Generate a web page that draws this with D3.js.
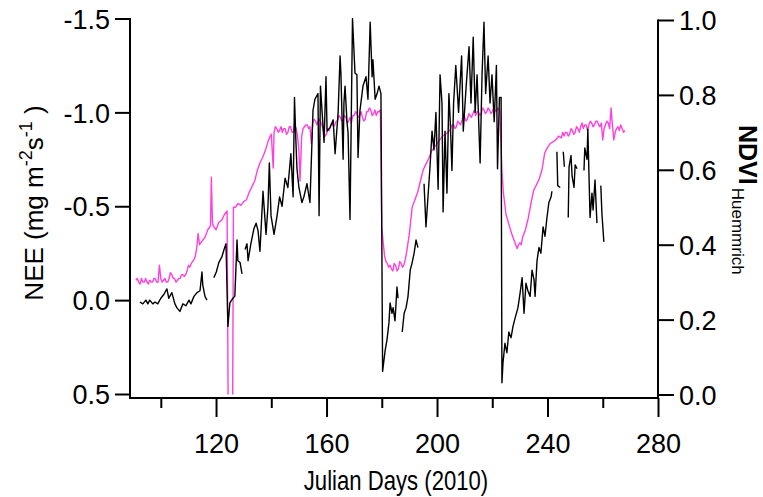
<!DOCTYPE html>
<html>
<head>
<meta charset="utf-8">
<script src="https://cdn.jsdelivr.net/npm/d3@7"></script>
<style>
  html, body { margin: 0; padding: 0; background: #fff; }
  svg { display: block; }
  text { font-family: "Liberation Sans", Arial, sans-serif; fill: #000; }
</style>
</head>
<body>
<svg id="chart" width="763" height="497"></svg>
<script>
// ---------------- DATA ----------------
const xTicksMajor = [120, 160, 200, 240, 280];
const xTicksMinor = [100, 140, 180, 220, 260];
const neeTicks = [-1.5, -1.0, -0.5, 0.0, 0.5];
const ndviTicks = [0.0, 0.2, 0.4, 0.6, 0.8, 1.0];

// NEE (mg m-2 s-1), black line; null = gap
const neeDays = [
  92.4, 93.5, 94.6, 95.3, 96.0, 97.1, 97.9, 98.9, 100.0, 101.1, 102.2, 102.9, 104.0, 105.1, 105.8, 106.9,
  108.0, 109.1, 110.2, 110.9, 112.0, 113.1, 114.2, 114.9, 115.2, 116.0, 116.7, 117.5,
  119.2, 120.1, 121.0, 122.1, 122.9, 123.6, 124.3, 125.0, 126.1, 126.8, 127.6, 127.9, 128.7, 129.4, 129.8,
  130.5, 131.2, 131.6, 132.6, 133.7, 134.5, 135.2, 135.9, 137.0, 138.1, 138.8, 139.3, 139.9, 141.0, 142.1,
  143.0, 143.9, 145.0, 146.0, 147.1, 147.9, 148.4, 148.9, 149.3, 150.0, 151.1, 151.8, 152.9, 154.0, 155.1,
  155.8, 156.9, 157.3, 157.8, 159.1, 159.8, 160.2, 161.3, 162.4, 163.1, 164.2, 164.9, 165.2, 166.0, 166.3,
  166.7, 167.4, 167.8, 168.5, 169.4, 170.3, 171.0, 171.4, 172.1, 173.2, 174.3, 175.0, 175.8, 176.5, 176.8,
  177.6, 178.3, 179.0, 179.7, 180.3, 181.2, 181.9, 182.6, 183.0, 183.7, 184.1, 184.8, 185.5, 185.9, 186.6,
  187.4, 188.1, 188.8, 189.5, 190.3, 191.0, 191.7, 192.4, 193.1, 194.0,
  195.3, 196.0, 197.5, 198.2, 198.9, 199.6, 200.4, 201.1, 201.8, 202.2, 202.9, 203.6, 204.3, 204.8, 205.4,
  206.0, 206.8, 207.8, 208.9, 209.5, 210.6, 211.6, 212.3, 213.1, 213.8, 214.5, 215.6, 216.3, 217.0, 217.6,
  218.5, 219.2, 219.9, 220.7, 221.5, 221.9, 222.6, 223.2, 223.5, 223.9, 224.6, 225.3, 226.0, 226.8, 227.5,
  228.2, 229.3, 230.1, 230.8, 231.5, 232.2, 232.9, 233.7, 234.4, 235.1, 235.5, 236.2, 236.9, 237.6, 238.4,
  239.1, 239.8, 240.5, 241.3, 241.6, 242.5, 243.4, 243.7, 244.6, 245.3, 245.7, 246.1, 247.0, 247.5, 247.8,
  248.5, 248.9, 249.6, 250.0, 250.7, 252.0, 253.2, 253.5, 254.3, 254.6, 255.4, 256.1, 256.5, 257.2, 257.9,
  258.7, 259.3, 259.7, 260.4
];
const neeValues = [
  0.01, 0.02, 0.00, 0.02, 0.00, 0.02, 0.01, 0.02, -0.01, -0.03, -0.06, -0.01, -0.04, 0.02, 0.04, 0.06,
  0.02, 0.03, 0.00, 0.02, -0.02, -0.04, -0.05, -0.15, -0.08, -0.02, 0.00, null,
  -0.12, -0.15, -0.20, -0.23, -0.27, -0.30, 0.14, 0.015, -0.01, -0.02, -0.32, -0.21, -0.20, -0.14, null,
  -0.27, -0.30, -0.21, -0.30, -0.38, -0.41, -0.37, -0.26, -0.58, -0.35, -0.50, -0.73, -0.45, -0.35, -0.45,
  -0.55, -0.50, -0.65, -0.60, -0.78, -0.55, -1.08, -0.85, -0.70, -0.60, -0.52, -0.55, -0.62, -0.52, -1.01,
  -1.07, -1.10, -0.45, -1.14, -0.84, -1.19, -0.90, -0.92, -0.96, -0.78, -1.00, -1.30, -1.21, -0.75, -1.05,
  -1.14, -0.95, -0.89, -0.43, -1.50, -1.21, -1.20, -0.76, -1.01, -1.14, -1.19, -1.07, -1.48, -1.19, -1.28,
  -1.07, -1.10, -1.14, -1.10, 0.38, 0.27, 0.21, 0.12, 0.015, 0.07, 0.04, 0.11, -0.07, -0.01, null,
  0.17, 0.07, 0.04, -0.02, -0.16, -0.20, -0.25, -0.32, -0.28, null,
  -0.62, -0.39, -0.72, -0.90, -0.80, -1.00, -0.59, -1.20, -1.05, -0.47, -0.90, -0.57, -1.10, -0.95, -0.69,
  -1.05, -1.25, -1.00, -1.30, -0.90, -1.15, -1.35, -1.05, -1.40, -1.00, -1.20, -0.73, -1.20, -1.48, -1.10,
  -1.30, -1.05, -1.20, -0.95, -1.25, -0.70, -1.08, -1.08, 0.44, 0.33, 0.23, 0.28, 0.17, 0.20, 0.14,
  0.10, 0.04, -0.04, -0.12, 0.07, -0.09, -0.05, -0.02, -0.16, -0.11, -0.02, -0.21, -0.28, -0.25, -0.39,
  -0.34, -0.44, -0.52, -0.55, -0.58, null, -0.79, -0.61, -0.60, null, -0.79, -0.71, null, -0.44, -0.71,
  -0.77, -0.66, -0.60, -0.72, -0.70, null, -0.69, -0.81, -0.75, -0.91, -0.44, -0.57, -0.48, -0.64, -0.41,
  null, -0.61, -0.46, -0.31
];

// NDVI (Huemmrich), magenta line: [julian day, ndvi]
const ndviSeries = [
  [91, .305], [91.5, .31], [92, .30], [92.5, .295], [93, .31], [93.5, .30], [94, .30], [94.5, .31],
  [95, .30], [95.5, .295], [96, .305], [96.5, .30], [97, .30], [97.5, .31], [98, .31], [98.5, .30],
  [99, .30], [99.5, .345], [100, .31], [100.5, .30], [101, .305], [101.5, .31], [102, .30], [102.5, .30],
  [103, .31], [103.5, .325], [104, .32], [104.5, .31], [105, .31], [105.5, .30], [106, .305], [106.5, .31],
  [107, .31], [107.5, .32], [108, .32], [108.5, .315], [109, .32], [109.5, .33], [110, .345], [110.5, .34],
  [111, .35], [111.5, .355], [112, .36], [112.5, .37], [113, .39], [113.5, .43], [114, .40], [115, .41],
  [116, .42], [117, .44], [118, .45], [118.3, .58], [118.7, .46], [119, .45], [120, .44], [121, .46],
  [122, .465], [123, .48], [124, .49], [124.4, -0.05], [126.0, -0.05], [126.3, .50], [127, .50], [128, .51],
  [129, .505], [130, .515], [131, .52], [132, .54], [133, .555], [134, .57], [135, .60], [136, .62],
  [137, .635], [138, .655], [139, .68], [140, .695], [140.7, .605], [141, .70], [141.5, .715], [142, .71],
  [142.5, .70], [143, .705], [143.5, .715], [144, .70], [144.5, .71], [145, .71], [145.5, .695], [146, .70],
  [146.5, .715], [147, .715], [147.5, .70], [148, .70], [148.5, .72], [149, .71], [149.5, .69], [150, .65],
  [150.4, .57], [151, .69], [151.5, .71], [152, .715], [152.5, .72], [153, .72], [153.5, .71], [154, .715],
  [154.5, .67], [155, .725], [155.5, .735], [156, .73], [156.5, .72], [157, .73], [157.5, .735], [158, .725],
  [158.5, .715], [159, .70], [159.5, .69], [160, .695], [160.5, .71], [161, .705], [161.5, .72], [162, .725],
  [162.5, .715], [163, .72], [163.5, .73], [164, .73], [164.5, .745], [165, .74], [165.5, .73], [166, .735],
  [166.5, .745], [167, .74], [167.5, .725], [168, .73], [168.5, .74], [169, .725], [169.5, .745], [170, .745],
  [170.5, .755], [171, .75], [171.5, .74], [172, .745], [172.5, .755], [173, .74], [173.5, .73], [174, .735],
  [174.5, .755], [175, .755], [175.5, .765], [176, .76], [176.5, .745], [177, .75], [177.5, .76], [178, .745],
  [178.5, .755], [179, .755], [179.5, .76],
  [180, .445], [181, .37], [181.5, .355], [182, .35], [182.5, .34], [183, .345], [183.5, .335], [184, .33],
  [184.5, .35], [185, .345], [185.5, .33], [186, .335], [186.5, .355], [187, .35], [187.5, .34], [188, .345],
  [188.5, .36], [189, .38], [190, .43], [191, .50], [192, .52], [193, .54], [194, .57], [195, .60], [196, .615],
  [197, .63], [198, .65], [199, .66], [200, .67], [201, .68], [202, .69], [203, .695], [204, .70],
  [205, .71], [205.5, .72], [206, .72], [206.5, .71], [207, .715], [207.5, .73], [208, .725], [208.5, .72],
  [209, .73], [209.5, .745], [210, .74], [210.5, .73], [211, .735], [211.5, .75], [212, .745], [212.5, .74],
  [213, .75], [213.5, .76], [214, .745], [214.5, .755], [215, .755], [215.5, .745], [216, .75], [216.5, .765],
  [217, .76], [217.5, .75], [218, .755], [218.5, .765], [219, .76], [219.5, .75], [220, .755], [220.5, .765],
  [221, .76], [221.5, .755], [222, .765], [222.7, .76],
  [223, .70], [223.5, .60], [224, .54], [225, .48], [226, .455], [227, .43], [228, .41], [229, .39],
  [229.5, .40], [230, .405], [230.5, .40], [231, .42], [232, .44], [233, .47], [234, .51], [235, .545],
  [236, .56], [237, .575], [238, .60], [239, .645], [240, .66], [241, .67], [242, .675], [243, .68], [244, .69],
  [245, .685], [245.5, .70], [246, .69], [246.5, .70], [247, .70], [247.5, .69], [248, .695], [248.5, .71],
  [249, .705], [249.5, .695], [250, .70], [250.5, .715], [251, .71], [251.5, .70], [252, .715], [252.5, .725],
  [253, .71], [253.5, .72], [254, .72], [254.5, .705], [255, .72], [255.5, .73], [256, .725], [256.5, .715],
  [257, .72], [257.5, .73], [258, .73], [258.5, .72], [259, .715], [259.5, .725], [260, .68], [260.5, .71],
  [261, .72], [261.5, .73], [262, .725], [262.5, .71], [263, .765], [263.5, .72], [264, .68], [264.5, .70],
  [265, .71], [265.5, .715], [266, .705], [266.5, .72], [267, .71], [267.5, .70], [268, .705]
];

// ---------------- CHART ----------------
const svg = d3.select("#chart");
const X0 = 130, X1 = 658, YT = 18.5, YB = 394, AXIS_Y = 398;

const x = d3.scaleLinear().domain([88.85, 280]).range([X0, X1]);
const yNee = d3.scaleLinear().domain([-1.5, 0.5]).range([YT, YB]);
const yNdvi = d3.scaleLinear().domain([0, 1]).range([YB + 0.5, 20]);

svg.append("defs").append("clipPath").attr("id", "plotclip")
  .append("rect").attr("x", X0).attr("y", YT - 1).attr("width", X1 - X0).attr("height", YB - YT + 1.5);

const plot = svg.append("g").attr("clip-path", "url(#plotclip)");

const neeData = neeDays.map((d, i) => ({ d, v: neeValues[i] }));

plot.append("path")
  .datum(ndviSeries)
  .attr("fill", "none")
  .attr("stroke", "#ff40dc")
  .attr("stroke-width", 1.4)
  .attr("stroke-linejoin", "round")
  .attr("d", d3.line().x(p => x(p[0])).y(p => yNdvi(p[1])));

plot.append("path")
  .datum(neeData)
  .attr("fill", "none")
  .attr("stroke", "#000")
  .attr("stroke-width", 1.4)
  .attr("stroke-linejoin", "round")
  .attr("d", d3.line().defined(p => p.v !== null).x(p => x(p.d)).y(p => yNee(p.v)));

// axis frame lines
const axisStroke = 2;
svg.append("line").attr("x1", X0).attr("x2", X0).attr("y1", YT - 0.5).attr("y2", AXIS_Y + 1)
  .attr("stroke", "#000").attr("stroke-width", axisStroke);
svg.append("line").attr("x1", X0 - 1).attr("x2", X1 + 1).attr("y1", AXIS_Y).attr("y2", AXIS_Y)
  .attr("stroke", "#000").attr("stroke-width", axisStroke);
svg.append("line").attr("x1", X1).attr("x2", X1).attr("y1", 19.5).attr("y2", AXIS_Y)
  .attr("stroke", "#000").attr("stroke-width", axisStroke);

// bottom axis
const gx = svg.append("g").attr("transform", `translate(0,${AXIS_Y})`)
  .call(d3.axisBottom(x).tickValues(xTicksMajor).tickSize(19).tickFormat(d3.format("d")));
const gxm = svg.append("g").attr("transform", `translate(0,${AXIS_Y})`)
  .call(d3.axisBottom(x).tickValues(xTicksMinor).tickSize(10).tickFormat(""));
[gx, gxm].forEach(g => {
  g.select(".domain").remove();
  g.selectAll(".tick line").attr("stroke", "#000").attr("stroke-width", axisStroke);
});
gx.selectAll(".tick text").attr("y", 55).attr("dy", 0).attr("font-size", 27);

// left axis
const gy = svg.append("g").attr("transform", `translate(${X0},0)`)
  .call(d3.axisLeft(yNee).tickValues(neeTicks).tickSize(15).tickFormat(d3.format(".1f")));
gy.select(".domain").remove();
gy.selectAll(".tick line").attr("stroke", "#000").attr("stroke-width", axisStroke);
gy.selectAll(".tick text").attr("x", -20).attr("dy", "0.36em").attr("font-size", 27)
  .text(d => d3.format(".1f")(d).replace("\u2212", "-"));

// right axis
const gr = svg.append("g").attr("transform", `translate(${X1},0)`)
  .call(d3.axisRight(yNdvi).tickValues(ndviTicks).tickSize(16).tickFormat(d3.format(".1f")));
gr.select(".domain").remove();
gr.selectAll(".tick line").attr("stroke", "#000").attr("stroke-width", axisStroke);
gr.selectAll(".tick text").attr("x", 21).attr("dy", "0.36em").attr("font-size", 27);

svg.selectAll(".tick text").attr("fill", "#000").attr("font-family", null);

// axis titles (condensed look via horizontal scaling)
svg.append("g")
  .attr("transform", `translate(${(X0 + X1) / 2 + 2},490) scale(0.82,1)`)
  .append("text")
  .attr("text-anchor", "middle").attr("font-size", 27)
  .text("Julian Days (2010)");

const lt = svg.append("text")
  .attr("transform", "translate(43,203) rotate(-90)")
  .attr("text-anchor", "middle").attr("font-size", 26);
lt.append("tspan").text("NEE (mg m");
lt.append("tspan").attr("dy", -11).attr("font-size", 18).text("-2");
lt.append("tspan").attr("dy", 11).text("s");
lt.append("tspan").attr("dy", -11).attr("font-size", 18).text("-1");
lt.append("tspan").attr("dy", 11).text(" )");

const rt = svg.append("text")
  .attr("transform", "translate(739,125) rotate(90)")
  .attr("font-size", 25);
rt.append("tspan").attr("font-weight", "bold").text("NDVI");
rt.append("tspan").attr("dy", 7).attr("dx", 3).attr("font-size", 17).text("Huemmrich");
</script>
</body>
</html>
